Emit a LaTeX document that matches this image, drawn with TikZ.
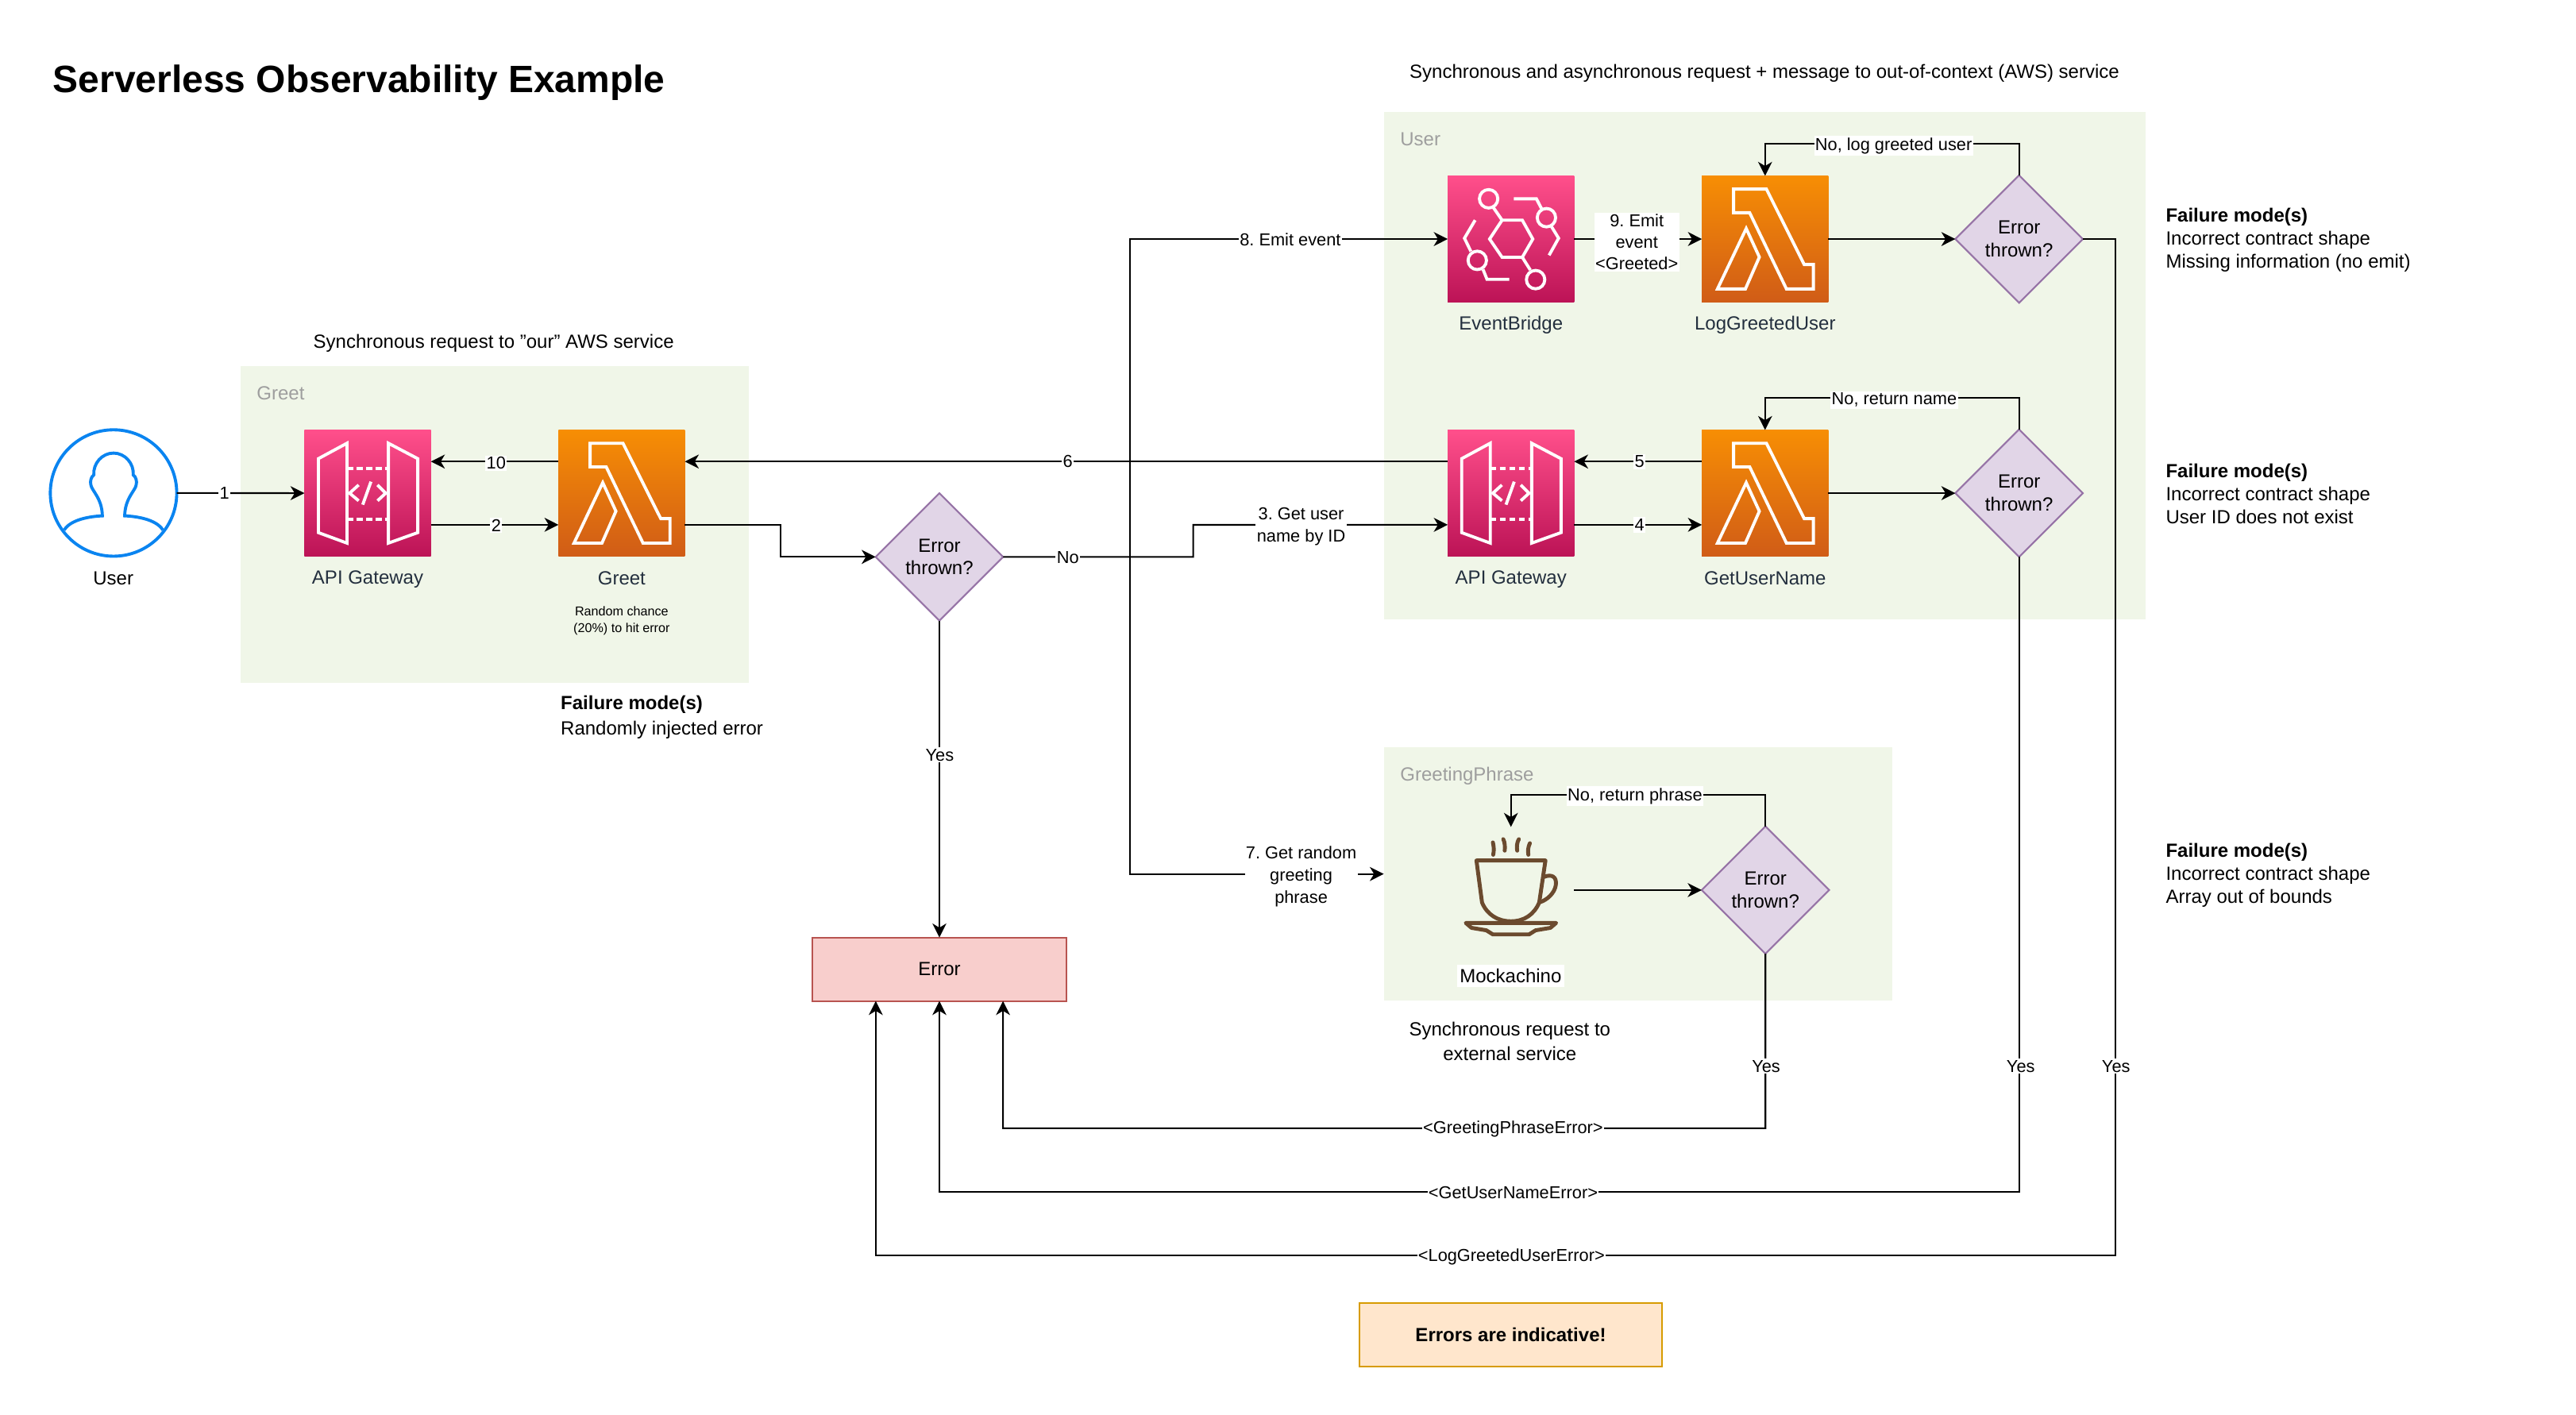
\documentclass[tikz,border=0pt]{standalone}
\usepackage{fontspec}
\setmainfont{Liberation Sans}
\usetikzlibrary{arrows.meta,shapes.geometric}
\definecolor{groupgreen}{HTML}{F0F6E8}
\definecolor{awsink}{HTML}{232F3E}
\definecolor{cupbrown}{HTML}{6B4A2E}
\definecolor{userblue}{HTML}{0A84F0}
\definecolor{pinktop}{HTML}{FF4F8B}
\definecolor{pinkbottom}{HTML}{BC1356}
\definecolor{orangetop}{HTML}{F78E04}
\definecolor{orangebottom}{HTML}{D05C17}
\definecolor{decisionfill}{HTML}{E1D5E7}
\definecolor{decisionline}{HTML}{9673A6}
\definecolor{errorfill}{HTML}{F8CECC}
\definecolor{errorline}{HTML}{B85450}
\definecolor{notefill}{HTML}{FFE6CC}
\definecolor{noteline}{HTML}{D79B00}
\tikzset{
lambdaglyph/.pic={
\draw[glyph] (-19.2,-30.4) -- (0.8,-30.4) -- (23.8,15.5) -- (29.4,15.5) -- (29.4,30.4) -- (13,30.4) -- (-9.4,-16) -- (-19.2,-16) -- cycle;
\draw[glyph] (-11.5,-6.4) -- (-3.5,11) -- (-12,30.4) -- (-29,30.4) -- cycle;
},
gatewayglyph/.pic={
\draw[glyph] (-30,-21) -- (-12.6,-30.4) -- (-12.6,30.4) -- (-30,24) -- cycle;
\draw[glyph] (12.6,-30.4) -- (30.5,-21) -- (30.5,24) -- (12.6,30.4) -- cycle;
\draw[glyph,dash pattern=on 2.2pt off 1.2pt] (-12.6,-15) -- (12.6,-15);
\draw[glyph,dash pattern=on 2.2pt off 1.2pt] (-12.6,16) -- (12.6,16);
\draw[glyph] (-5.5,-5) -- (-11,0) -- (-5.5,4.6);
\draw[glyph] (6,-5) -- (11,0) -- (6,4.6);
\draw[glyph] (2,-7) -- (-3,7);
},
bridgeglyph/.pic={
\draw[glyph] (-13,0) -- (-5.4,-11.5) -- (6.9,-11.5) -- (13.3,0) -- (6.9,11.1) -- (-5.4,11.1) -- cycle;
\draw[glyph] (-13.6,-24.5) circle (5.6);
\draw[glyph] (21.6,-13) circle (5.6);
\draw[glyph] (-20.5,13) circle (5.6);
\draw[glyph] (15,24.7) circle (5.6);
\draw[glyph] (-10.6,-19) -- (-5.4,-11.5);
\draw[glyph] (6.9,11.1) -- (11.8,18.9);
\draw[glyph] (1.7,-24.5) -- (15.5,-24.5) -- (18.6,-18.5);
\draw[glyph] (24.7,-7.5) -- (29,-0.5) -- (23.2,9.9);
\draw[glyph] (-21.8,-11.5) -- (-28.3,-0.5) -- (-24.4,7.5);
\draw[glyph] (-17,18.5) -- (-14.6,24.5) -- (-1,24.5);
},
personglyph/.pic={
\foreach \sx in {-1,1}
\draw[personline,xscale=\sx] (0,-24.3) .. controls (7,-24.3) and (12.5,-18) .. (12,-11) .. controls (13.6,-10) and (14.4,-7) .. (13.8,-5) .. controls (13.4,-1.5) and (7,3) .. (6.8,13.9) .. controls (14,14.2) and (26,16) .. (30,22.5);
},
cupglyph/.pic={
\draw[cupline] (-21,-18) -- (21,-18) -- (17.2,7.6) .. controls (14,15) and (8,19) .. (0,19) .. controls (-8,19) and (-14.5,15) .. (-17.6,7.6) -- cycle;
\draw[cupline] (20,-8) .. controls (25,-10) and (28,-8) .. (27.3,-3) .. controls (26.5,2) and (22,6) .. (17.6,7.4);
\draw[cupline] (-27.5,20) -- (27.5,20) -- (24,23) -- (15,24.5) -- (11,27) -- (-11,27) -- (-15,24.5) -- (-24,23) -- cycle;
\draw[cupline,line cap=round] (-11,-29) .. controls (-10.3,-26) and (-10.3,-24) .. (-10.8,-21.5);
\draw[cupline,line cap=round] (-4.7,-31) .. controls (-3.6,-29) and (-3.6,-26) .. (-3.8,-24);
\draw[cupline,line cap=round] (4.8,-31) .. controls (3.6,-29) and (3.4,-26) .. (3.8,-24);
\draw[cupline,line cap=round] (11.5,-28.5) .. controls (10.4,-26) and (10.2,-24) .. (10.6,-21.5);
}
}

\begin{document}
\frenchspacing
\begin{tikzpicture}[x=0.020689cm,y=-0.020689cm,
>={Stealth[length=5pt,width=5pt,inset=1.5pt]},
conn/.style={->,line width=.6pt},
glyph/.style={draw=white,line width=1.1pt,line join=miter},
personline/.style={draw=userblue,line width=1.1pt},
cupline/.style={draw=cupbrown,line width=1.4pt,line join=round},
plain/.style={font=\fontsize{6.83}{8.24}\selectfont,inner sep=0pt,align=center},
leftplain/.style={plain,anchor=west,align=left},
edgelbl/.style={font=\fontsize{6.2}{8.05}\selectfont,fill=white,inner xsep=.4pt,inner ysep=.6pt,align=center},
awslbl/.style={plain,text=awsink},
grouplbl/.style={plain,anchor=west,text=black!38},
pinkbox/.style={minimum size=45.3pt,inner sep=0pt,outer sep=0pt,top color=pinktop,bottom color=pinkbottom},
orangebox/.style={minimum size=45.3pt,inner sep=0pt,outer sep=0pt,top color=orangetop,bottom color=orangebottom},
decision/.style={diamond,aspect=1,minimum width=45.7pt,minimum height=45.7pt,inner sep=0pt,outer sep=0pt,draw=decisionline,fill=decisionfill,line width=.6pt,font=\fontsize{6.83}{8.24}\selectfont,align=center}]
\useasboundingbox (0,0) rectangle (1568,861.3);
\fill[groupgreen] (146.5,223) rectangle (455.6,415.8);
\fill[groupgreen] (842.3,68.2) rectangle (1306,377);
\fill[groupgreen] (842.3,455) rectangle (1152,609);
\node[plain,anchor=west,font=\fontsize{13.65}{16}\selectfont\bfseries] (title) at (32,50.5) {Serverless Observability Example};
\node[plain] (headAsync) at (1074,44.5) {Synchronous and asynchronous request + message to out-of-context (AWS) service};
\node[plain] (headSync) at (300.5,209) {Synchronous request to "our" AWS service};
\node[plain,font=\fontsize{6.83}{8.8}\selectfont] (headExternal) at (919,634) {Synchronous request to\\external service};
\node[grouplbl] (labelGreet) at (156,239.5) {Greet};
\node[grouplbl] (labelUser) at (852,85) {User};
\node[grouplbl] (labelPhrase) at (852,472.5) {GreetingPhrase};
\node[circle,draw=userblue,line width=1.1pt,minimum size=45.3pt,inner sep=0pt,outer sep=0pt] (user) at (69.1,300.1) {};
\pic at (user) {personglyph};
\node[pinkbox] (apiGreet) at (223.8,300.2) {};
\pic at (apiGreet) {gatewayglyph};
\node[orangebox] (greet) at (378.4,300.2) {};
\pic at (greet) {lambdaglyph};
\node[pinkbox] (eventBridge) at (919.7,145.5) {};
\pic at (eventBridge) {bridgeglyph};
\node[orangebox] (logGreeted) at (1074.4,145.5) {};
\pic at (logGreeted) {lambdaglyph};
\node[pinkbox] (apiUser) at (919.7,300.2) {};
\pic at (apiUser) {gatewayglyph};
\node[orangebox] (getUserName) at (1074.4,300.2) {};
\pic at (getUserName) {lambdaglyph};
\node[minimum size=45.3pt,inner sep=0pt,outer sep=0pt] (mockachino) at (919.7,541.8) {};
\pic at (mockachino) {cupglyph};
\node[decision] (decGreet) at (571.8,339) {Error\\thrown?};
\node[decision] (decLog) at (1229,145.5) {Error\\thrown?};
\node[decision] (decName) at (1229,300.2) {Error\\thrown?};
\node[decision] (decPhrase) at (1074.6,541.8) {Error\\thrown?};
\node[plain,rectangle,draw=errorline,fill=errorfill,line width=.6pt,minimum width=91pt,minimum height=22.8pt,inner sep=0pt,outer sep=0pt] (errorBox) at (571.8,590) {Error};
\node[rectangle,draw=noteline,fill=notefill,line width=.6pt,minimum width=108.2pt,minimum height=22.7pt,inner sep=0pt,outer sep=0pt,font=\fontsize{6.83}{8.24}\selectfont\bfseries] (noteBox) at (919.6,812.5) {Errors are indicative!};
\coordinate (splitEvent) at (687.8,280.8);
\coordinate (phraseEdge) at (842.3,532);
\draw[conn] (user.east) -- (apiGreet.west);
\draw[conn] ([yshift=-11.33pt]apiGreet.east) -- ([yshift=-11.33pt]greet.west);
\draw[conn] ([yshift=11.33pt]greet.west) -- ([yshift=11.33pt]apiGreet.east);
\draw[conn] ([yshift=-11.33pt]greet.east) -| (475,339) -- (decGreet.west);
\draw[conn] (decGreet.east) -| (726.3,319.5) -- ([yshift=-11.33pt]apiUser.west);
\draw[conn] (decGreet.south) -- (errorBox.north);
\draw[conn] ([yshift=11.33pt]apiUser.west) -- ([yshift=11.33pt]greet.east);
\draw[conn] (splitEvent) |- (eventBridge.west);
\draw[conn] (splitEvent) |- (phraseEdge);
\draw[conn] (eventBridge.east) -- (logGreeted.west);
\draw[conn] (logGreeted.east) -- (decLog.west);
\draw[conn] (decLog.north) |- (1074.4,87.5) -- (logGreeted.north);
\draw[conn] ([yshift=-11.33pt]apiUser.east) -- ([yshift=-11.33pt]getUserName.west);
\draw[conn] ([yshift=11.33pt]getUserName.west) -- ([yshift=11.33pt]apiUser.east);
\draw[conn] (getUserName.east) -- (decName.west);
\draw[conn] (decName.north) |- (1074.4,242.3) -- (getUserName.north);
\draw[conn] (mockachino.east) -- (decPhrase.west);
\draw[conn] (decPhrase.north) |- (919.7,483.7) -- (mockachino.north);
\draw[conn] (decPhrase.south) |- (610.5,686.8) -- ([xshift=22.8pt]errorBox.south);
\draw[conn] (decName.south) |- (571.8,725.5) -- (errorBox.south);
\draw[conn] (decLog.east) -| (1287.5,764.2) -| ([xshift=-22.8pt]errorBox.south);
\node[edgelbl] (lblOne) at (136.6,300) {1};
\node[edgelbl] (lblTwo) at (302,319.8) {2};
\node[edgelbl] (lblTen) at (302,282) {10};
\node[edgelbl] (lblSix) at (650,280.8) {6};
\node[edgelbl] (lblNo) at (650,339.5) {No};
\node[edgelbl] (lblYesMain) at (572,459.5) {Yes};
\node[edgelbl] (lblThree) at (792,320.5) {3. Get user\\name by ID};
\node[edgelbl] (lblFour) at (998,319.5) {4};
\node[edgelbl] (lblFive) at (998,281) {5};
\node[edgelbl] (lblSeven) at (792,533.5) {7. Get random\\greeting\\phrase};
\node[edgelbl] (lblEight) at (785.4,146) {8. Emit event};
\node[edgelbl,font=\fontsize{6.2}{7.65}\selectfont] (lblNine) at (996.3,147.3) {9. Emit\\event\\<Greeted>};
\node[edgelbl] (lblNoLog) at (1152.6,88.8) {No, log greeted user};
\node[edgelbl] (lblNoName) at (1153,243.5) {No, return name};
\node[edgelbl] (lblNoPhrase) at (995.2,484.5) {No, return phrase};
\node[edgelbl] (lblYesPhrase) at (1075,649) {Yes};
\node[edgelbl] (lblYesName) at (1230,649) {Yes};
\node[edgelbl] (lblYesLog) at (1288,649) {Yes};
\node[edgelbl] (lblPhraseError) at (921,687.3) {<GreetingPhraseError>};
\node[edgelbl] (lblNameError) at (921,726) {<GetUserNameError>};
\node[edgelbl] (lblLogError) at (920,765) {<LogGreetedUserError>};
\node[plain] (nameUser) at (69,352) {User};
\node[awslbl] (nameApiGreet) at (223.8,352.8) {API Gateway};
\node[awslbl] (nameGreet) at (378.4,352) {Greet};
\node[plain,font=\fontsize{4.6}{5.9}\selectfont] (noteGreet) at (378.4,378) {Random chance\\(20\%) to hit error};
\node[awslbl] (nameBridge) at (919.7,198) {EventBridge};
\node[awslbl] (nameLog) at (1074.4,198) {LogGreetedUser};
\node[awslbl] (nameApiUser) at (919.7,352.8) {API Gateway};
\node[awslbl] (nameGetUser) at (1074.4,352) {GetUserName};
\node[plain,fill=white,inner xsep=1pt,inner ysep=1.5pt] (nameMock) at (919.5,594) {Mockachino};
\node[leftplain] (failGreet) at (341,436.6) {\textbf{Failure mode(s)}\\[.8pt]Randomly injected error};
\node[leftplain] (failLog) at (1318,146.3) {\textbf{Failure mode(s)}\\Incorrect contract shape\\Missing information (no emit)};
\node[leftplain] (failName) at (1318,300.4) {\textbf{Failure mode(s)}\\Incorrect contract shape\\User ID does not exist};
\node[leftplain] (failPhrase) at (1318,532.6) {\textbf{Failure mode(s)}\\Incorrect contract shape\\Array out of bounds};
\end{tikzpicture}
\end{document}
